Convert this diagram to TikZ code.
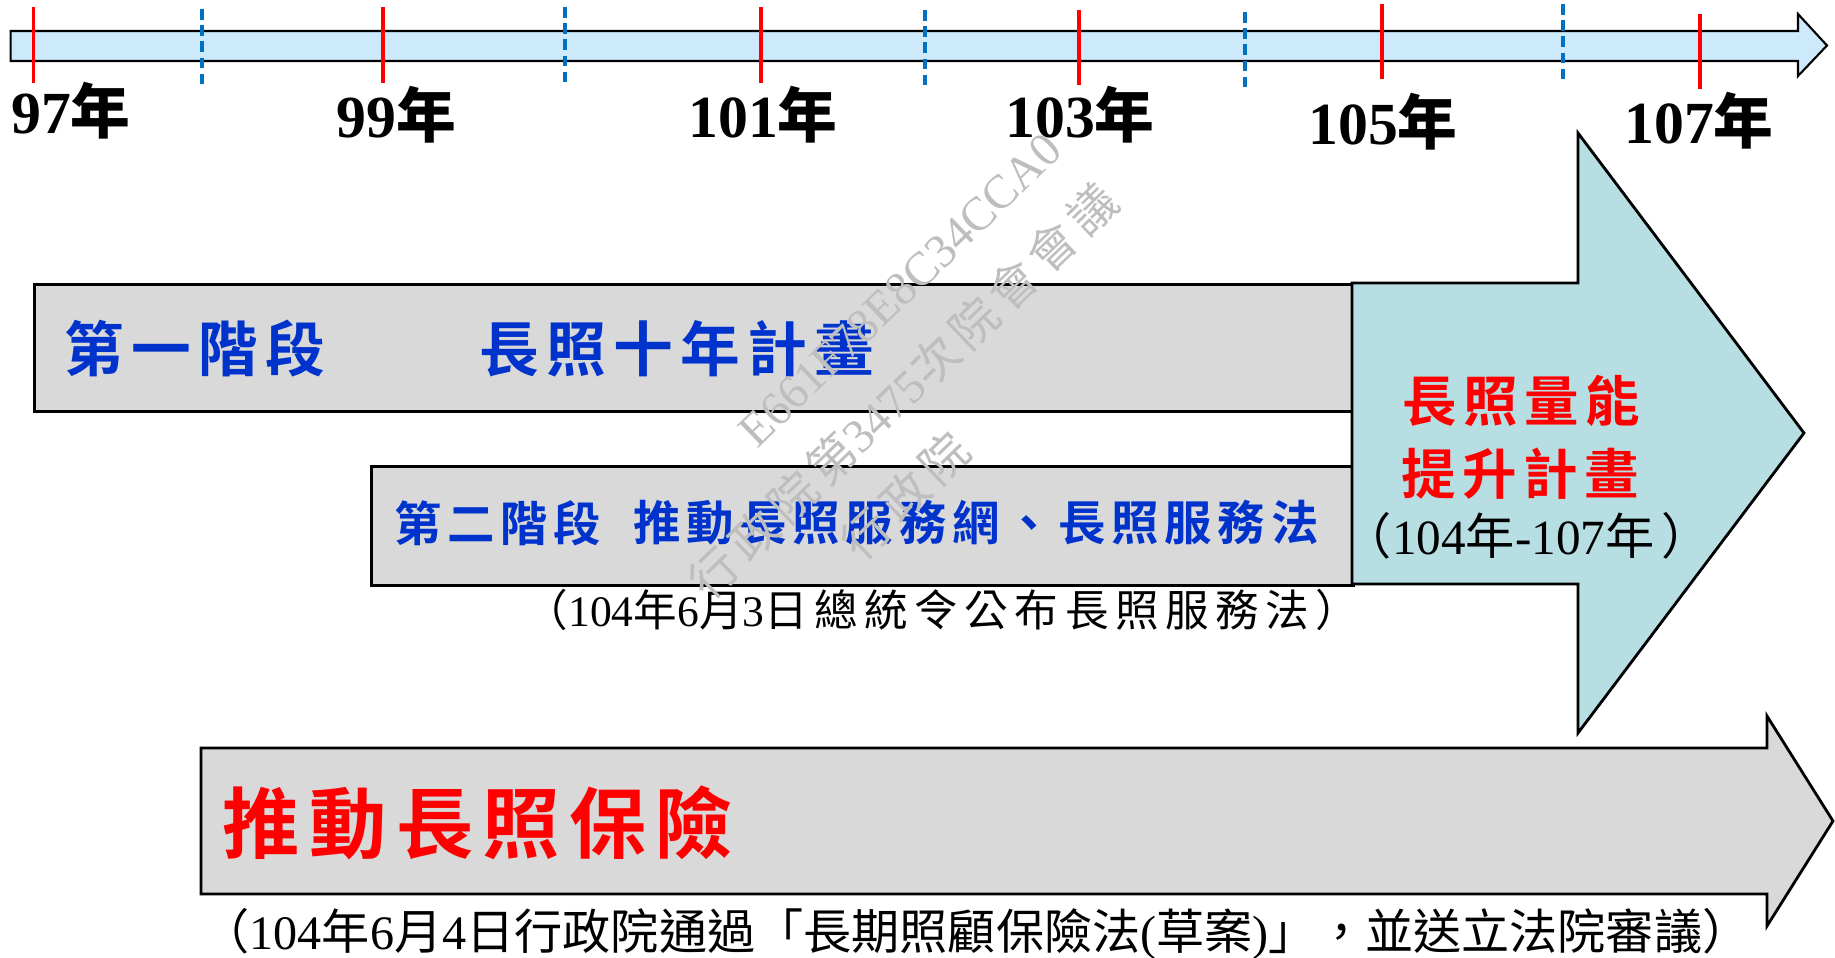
\documentclass[tikz,border=0pt]{standalone}
\usepackage{fontspec}
\setmainfont{Liberation Serif}
\newfontfamily\cjk{Noto Sans CJK TC}
\newfontfamily\cjkc{Noto Sans CJK TC}[LetterSpace=15]
\newfontfamily\cjkb{Noto Sans CJK TC Bold}[LetterSpace=12]
\newcommand\cj[1]{{\cjk #1}}
\newcommand\cjs[1]{{\cjkc #1}}
\definecolor{tlblue}{RGB}{204,234,252}
\definecolor{tickblue}{RGB}{0,112,192}
\definecolor{boxgray}{RGB}{217,217,217}
\definecolor{plancyan}{RGB}{183,222,226}
\definecolor{titleblue}{RGB}{0,51,204}
\definecolor{wmgray}{RGB}{190,190,190}
\usetikzlibrary{positioning}

\begin{document}
\begin{tikzpicture}[
tline/.style={
  draw=black,
  line width=0.6pt,
  fill=tlblue
},
redtick/.style={draw=red, line width=0.9pt},
bluetick/.style={draw=tickblue, line width=0.9pt, dash pattern=on 3pt off 1.6pt},
graybox/.style={
  draw=black,
  line width=0.8pt,
  fill=boxgray,
  rectangle,
  inner sep=0pt,
  anchor=north west
},
yearlbl/.style={font=\fontsize{17}{17}\selectfont\bfseries, inner sep=0pt},
bluetitle/.style={font=\fontsize{17}{17}\cjkb, text=titleblue, inner sep=0pt},
bluesub/.style={font=\fontsize{13.5}{13.5}\cjkb, text=titleblue, inner sep=0pt},
redtitle/.style={font=\fontsize{15.5}{15.5}\cjkb, text=red, inner sep=0pt},
note/.style={font=\fontsize{12.4}{12.4}\selectfont, inner sep=0pt},
wmark/.style={font=\fontsize{13.5}{13.5}\selectfont, text=wmgray, inner sep=0pt, rotate=44}
]
\useasboundingbox (0,0) rectangle (18.35,-9.57);

% time line
\draw[tline] (0.106,-0.31) -- (17.98,-0.31) -- (17.98,-0.14) -- (18.27,-0.455)
  -- (17.98,-0.76) -- (17.98,-0.61) -- (0.106,-0.61) -- cycle;
\foreach \x/\a/\b in {0.335/0.07/0.83, 3.83/0.07/0.83, 7.61/0.07/0.83,
  10.79/0.10/0.85, 13.82/0.04/0.79, 17.00/0.14/0.89}
  \draw[redtick] (\x,-\a) -- (\x,-\b);
\foreach \x/\a/\b in {2.02/0.09/0.84, 5.65/0.07/0.83, 9.25/0.10/0.85,
  12.45/0.12/0.87, 15.63/0.04/0.79}
  \draw[bluetick] (\x,-\a) -- (\x,-\b);

\node[yearlbl] (y97) at (0.71,-1.11) {97{\cjkb 年}};
\node[yearlbl] (y99) at (3.96,-1.15) {99{\cjkb 年}};
\node[yearlbl] (y101) at (7.63,-1.15) {101{\cjkb 年}};
\node[yearlbl] (y103) at (10.80,-1.15) {103{\cjkb 年}};
\node[yearlbl] (y105) at (13.83,-1.22) {105{\cjkb 年}};
\node[yearlbl] (y107) at (16.99,-1.21) {107{\cjkb 年}};

% stages
\node[graybox, minimum width=13.19cm, minimum height=1.27cm] (stage1) at (0.33,-2.83) {};
\node[graybox, minimum width=9.82cm, minimum height=1.19cm] (stage2) at (3.70,-4.65) {};

\node[bluetitle] (s1name) at (1.95,-3.49) {第一階段};
\node[bluetitle] (s1plan) at (6.77,-3.49) {長照十年計畫};
\node[bluesub] (s2name) at (4.98,-5.23) {第二階段};
\node[bluesub] (s2plan) at (9.76,-5.23) {推動長照服務網、長照服務法};
\node[note] (lawnote) at (9.42,-6.10)
  {\cjs{（}104\cjs{年}6\cjs{月}3\cjs{日總統令公布長照服務法）}};

% capacity plan
\draw[draw=black, line width=0.8pt, fill=plancyan] (13.52,-2.83) -- (15.78,-2.83)
  -- (15.78,-1.33) -- (18.04,-4.33) -- (15.78,-7.33) -- (15.78,-5.84)
  -- (13.52,-5.84) -- cycle;
\node[redtitle] (boost1) at (15.21,-4.01) {長照量能};
\node[redtitle] (boost2) at (15.20,-4.74) {提升計畫};
\node[note, font=\fontsize{14}{14}\selectfont] (boostyrs) at (15.27,-5.36)
  {\cjs{（}104\cjs{年}-107\cjs{年）}};

% insurance
\draw[draw=black, line width=0.8pt, fill=boxgray] (2.01,-7.48) -- (17.67,-7.48)
  -- (17.67,-7.16) -- (18.33,-8.21) -- (17.67,-9.26) -- (17.67,-8.94)
  -- (2.01,-8.94) -- cycle;
\node[font=\fontsize{22}{22}\cjkb, text=red, inner sep=0pt] (ins) at (4.78,-8.23) {推動長照保險};
\node[font=\fontsize{13.7}{13.7}\selectfont, inner sep=0pt] (billnote) at (9.76,-9.34)
  {\cj{（}104\cj{年}6\cj{月}4\cj{日行政院通過「長期照顧保險法}(\cj{草案})\cj{」，並送立法院審議）}};

% watermark
\node[wmark] (wm1) at (9.00,-2.90) {E661F78E8C34CCA0};
\node[wmark] (wm2) at (9.03,-3.91) {\cjs{行政院第}3475\cjs{次院會會議}};
\node[wmark] (wm3) at (9.05,-4.96) {\cjs{行政院}};
\end{tikzpicture}
\end{document}
